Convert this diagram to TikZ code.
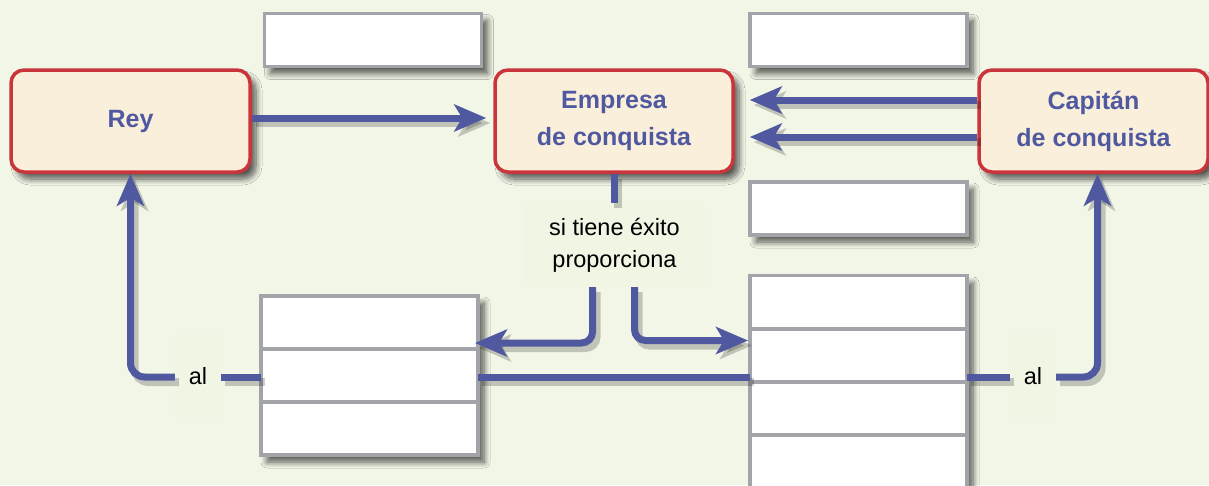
\documentclass[tikz,border=0pt]{standalone}
\usepackage{fontspec}
\setmainfont{Liberation Sans}
\usetikzlibrary{arrows.meta,shadows.blur}
\definecolor{bg}{HTML}{F1F6E7}
\definecolor{lblbg}{HTML}{F0F5E4}
\definecolor{arrblue}{HTML}{5059A0}
\definecolor{boxred}{HTML}{C9353B}
\definecolor{boxfill}{HTML}{FAEFDB}
\definecolor{boxgray}{HTML}{A3A4AA}
\tikzset{
  shad/.style={blur shadow={shadow blur steps=8, shadow blur radius=6pt, shadow xshift=6pt, shadow yshift=-7pt, shadow opacity=65}},
  mainbox/.style={draw=boxred, line width=3.5pt, fill=boxfill, rounded corners=13pt,
    minimum height=102pt, align=center, text=arrblue,
    font=\fontsize{25}{37}\selectfont\bfseries, shad},
  blank/.style={draw=boxgray, line width=3.5pt, fill=white, minimum width=217pt, minimum height=53pt,
    inner sep=0pt, outer sep=0pt, shad},
  cell/.style={draw=boxgray, line width=3.5pt, fill=white, minimum width=217pt, minimum height=53pt,
    inner sep=0pt, outer sep=0pt},
  lbl/.style={fill=lblbg, inner sep=0pt, align=center, font=\fontsize{23.5}{32}\selectfont},
  arr/.style={draw=arrblue, line width=7pt,
    -{Stealth[length=32pt,width=27pt,inset=8pt]},
    preaction={draw=black, opacity=0.2, line width=8pt, transform canvas={shift={(4pt,-5pt)}}}},
  ln/.style={draw=arrblue, line width=7pt,
    preaction={draw=black, opacity=0.2, line width=8pt, transform canvas={shift={(4pt,-5pt)}}}},
}
\begin{document}
\begin{tikzpicture}[x=1pt,y=-1pt]
\fill[bg] (0,0) rectangle (1209,485);
\useasboundingbox (0,0) rectangle (1209,485);
\begin{scope}
\clip (0,0) rectangle (1209,485);

% shadows of the stacks
\path[shad, fill=white] (261,296) rectangle (478,455);
\path[shad, fill=white] (750,276) rectangle (967,500);

% labels on the connectors
\node[lbl, minimum width=181pt, minimum height=84pt] (lab) at (614.5,245) {si tiene éxito\\proporciona};
\node[lbl, minimum width=46pt, minimum height=85pt] (alL) at (198,376.5) {al};
\node[lbl, minimum width=46pt, minimum height=85pt] (alR) at (1033,376.5) {al};

\node[cell] (L1) at (369.5,322.5) {};
\node[cell] (L2) at (369.5,375.5) {};
\node[cell] (L3) at (369.5,428.5) {};
\node[cell] (R1) at (858.5,302) {};
\node[cell] (R2) at (858.5,355.5) {};
\node[cell] (R3) at (858.5,408.5) {};
\node[cell] (R4) at (858.5,461.5) {};

\node[mainbox, minimum width=239pt] (rey) at (130.5,121) {Rey};
\node[mainbox, minimum width=238pt] (emp) at (614,121) {Empresa\\de conquista};
\node[mainbox, minimum width=229pt] (cap) at (1093.5,121) {Capitán\\de conquista};

\node[blank] (T1) at (373,40) {};
\node[blank] (T2) at (858.5,40) {};
\node[blank] (M2) at (858.5,208.5) {};

\coordinate (yline) at (0,377);

\draw[arr, shorten >=7pt] ([yshift=3pt]rey.east) -- ([yshift=3pt]emp.west);
\draw[arr, shorten >=15pt] ([yshift=21pt]cap.west) -- ([yshift=21pt]emp.east);
\draw[arr, shorten >=15pt] ([yshift=-16pt]cap.west) -- ([yshift=-16pt]emp.east);
\draw[ln] (emp.south) -- (emp.south |- lab.north);
\draw[arr, rounded corners=11pt, shorten >=-3pt] ([xshift=-22pt]lab.south) |- ([yshift=6pt]L1.south east);
\draw[arr, rounded corners=11pt, shorten >=2pt] ([xshift=20pt]lab.south) |- ([yshift=-12pt]R1.south west);
\draw[ln] (alL.east |- yline) -- (L2.west |- yline);
\draw[ln] (L2.east |- yline) -- (R2.west |- yline);
\draw[ln] (R2.east |- yline) -- (alR.west |- yline);
\draw[arr, rounded corners=14pt] (alL.west |- yline) -| (rey.south);
\draw[arr, rounded corners=14pt] (alR.east |- yline) -| ([xshift=4pt]cap.south);
\end{scope}
\end{tikzpicture}
\end{document}
